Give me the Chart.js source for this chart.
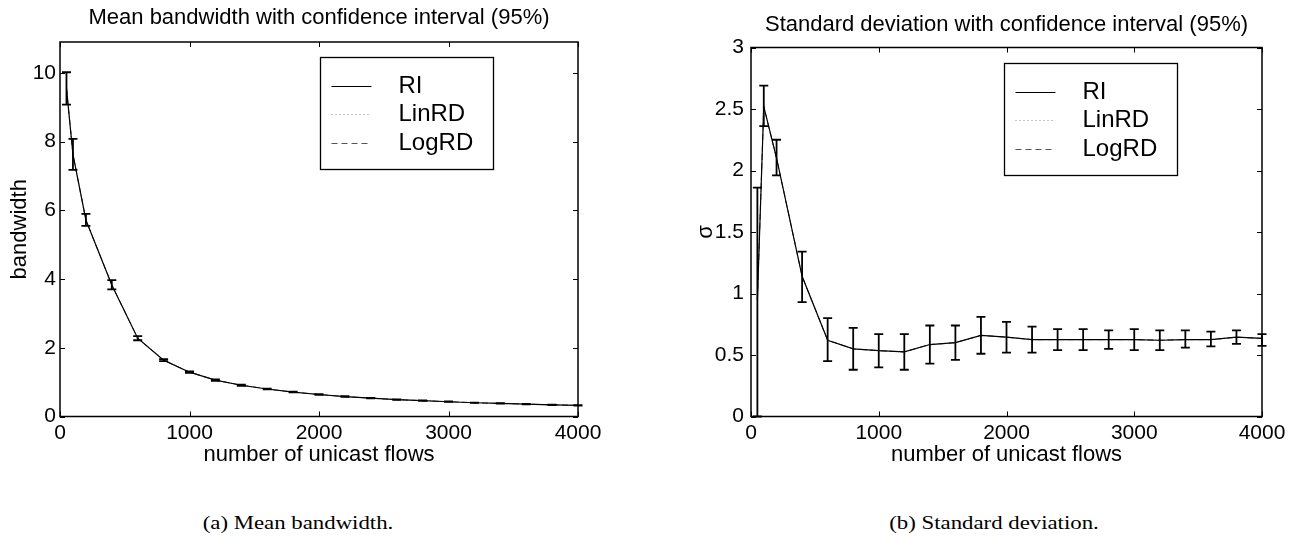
<!DOCTYPE html>
<html>
<head>
<meta charset="utf-8">
<script src="https://cdn.jsdelivr.net/npm/chart.js@4.4.1/dist/chart.umd.min.js"></script>
<style>
  body { margin: 0; background: #fff; width: 1297px; height: 538px; position: relative; overflow: hidden; }
  canvas { position: absolute; top: 0; }
  #bwChart { left: 0; }
  #sdChart { left: 650px; }
  .caption { position: absolute; top: 512px; font-family: "Liberation Serif", "Times New Roman", serif; font-size: 19px;
             white-space: nowrap; transform: translateX(-50%) scaleX(1.2); color: #000; }
</style>
</head>
<body>
<canvas id="bwChart" width="650" height="470"></canvas>
<canvas id="sdChart" width="647" height="470"></canvas>
<div class="caption" style="left:298px">(a) Mean bandwidth.</div>
<div class="caption" style="left:994px">(b) Standard deviation.</div>
<script>
// number of unicast flows (x positions of the samples)
const flows = [50, 100, 200, 400, 600, 800, 1000, 1200, 1400, 1600, 1800, 2000, 2200, 2400, 2600, 2800, 3000, 3200, 3400, 3600, 3800, 4000];

// mean bandwidth + 95% interval (RI, LinRD and LogRD lie on top of each other)
const bwMean = [9.55, 7.63, 5.72, 3.83, 2.28, 1.64, 1.29, 1.06, 0.91, 0.80, 0.71, 0.64, 0.58, 0.535, 0.49, 0.46, 0.43, 0.40, 0.38, 0.36, 0.34, 0.325];
const bwLow  = [9.08, 7.18, 5.55, 3.70, 2.22, 1.61, 1.27, 1.04, 0.895, 0.79, 0.70, 0.63, 0.57, 0.527, 0.483, 0.453, 0.424, 0.394, 0.374, 0.355, 0.335, 0.32];
const bwHigh = [10.02, 8.08, 5.90, 3.97, 2.34, 1.67, 1.31, 1.08, 0.925, 0.81, 0.72, 0.65, 0.59, 0.543, 0.497, 0.467, 0.436, 0.406, 0.386, 0.365, 0.345, 0.33];

// standard deviation + 95% interval
const sdMean = [0.95, 2.52, 2.10, 1.14, 0.62, 0.55, 0.535, 0.525, 0.585, 0.60, 0.66, 0.645, 0.625, 0.625, 0.625, 0.625, 0.625, 0.62, 0.625, 0.625, 0.645, 0.635];
const sdLow  = [0, 2.36, 1.96, 0.93, 0.45, 0.38, 0.40, 0.38, 0.43, 0.46, 0.51, 0.52, 0.52, 0.54, 0.54, 0.55, 0.54, 0.54, 0.56, 0.57, 0.59, 0.575];
const sdHigh = [1.86, 2.69, 2.25, 1.34, 0.80, 0.72, 0.67, 0.67, 0.74, 0.74, 0.81, 0.77, 0.73, 0.71, 0.71, 0.70, 0.71, 0.70, 0.70, 0.69, 0.70, 0.67];

// tick labels
const flowTicks = [0, 1000, 2000, 3000, 4000];
const bwTicks = [0, 2, 4, 6, 8, 10];
const sdTicks = [0, 0.5, 1, 1.5, 2, 2.5, 3];

Chart.defaults.font.family = "'Liberation Sans', Arial, Helvetica, sans-serif";
Chart.defaults.color = '#000';

const pts = arr => flows.map((f, i) => ({x: f, y: arr[i]}));

// matlab style box, inward ticks, error bars and boxed legend
const matlabBox = {
  id: 'matlabBox',
  afterDatasetsDraw(chart) {
    const {ctx, chartArea: a, scales: {x, y}} = chart;
    ctx.save();
    ctx.strokeStyle = '#000';

    // error bars
    ctx.lineWidth = 1.8;
    chart.data.datasets.forEach(ds => {
      if (!ds.errLow) return;
      ds.errLow.forEach((lo, i) => {
        const px = x.getPixelForValue(flows[i]);
        const p1 = y.getPixelForValue(lo);
        const p2 = y.getPixelForValue(ds.errHigh[i]);
        ctx.beginPath();
        ctx.moveTo(px, p1); ctx.lineTo(px, p2);
        ctx.moveTo(px - 4.5, p1); ctx.lineTo(px + 4.5, p1);
        ctx.moveTo(px - 4.5, p2); ctx.lineTo(px + 4.5, p2);
        ctx.stroke();
      });
    });

    // frame
    ctx.lineWidth = 1.5;
    ctx.strokeRect(a.left, a.top, a.width, a.height);

    // ticks pointing inward on all four sides
    ctx.lineWidth = 1;
    ctx.beginPath();
    x.ticks.forEach(t => {
      const px = Math.round(x.getPixelForValue(t.value)) + 0.5;
      ctx.moveTo(px, a.bottom); ctx.lineTo(px, a.bottom - 5);
      ctx.moveTo(px, a.top); ctx.lineTo(px, a.top + 5);
    });
    y.ticks.forEach(t => {
      const py = Math.round(y.getPixelForValue(t.value)) + 0.5;
      ctx.moveTo(a.left, py); ctx.lineTo(a.left + 5, py);
      ctx.moveTo(a.right, py); ctx.lineTo(a.right - 5, py);
    });
    ctx.stroke();

    // legend
    const w = 173, h = 112;
    const bx = Math.round(a.right - 85 - w) + 0.5, by = Math.round(a.top + 15) + 0.5;
    ctx.fillStyle = '#fff';
    ctx.fillRect(bx, by, w, h);
    ctx.lineWidth = 1.3;
    ctx.strokeRect(bx, by, w, h);
    ctx.font = "24px 'Liberation Sans', Arial, sans-serif";
    ctx.textBaseline = 'middle';
    chart.data.datasets.forEach((ds, i) => {
      const ly = Math.round(by + 28 + i * 28.5) + 0.5;
      ctx.strokeStyle = ds.legendColor;
      ctx.lineWidth = 1;
      ctx.setLineDash(ds.borderDash || []);
      ctx.beginPath();
      ctx.moveTo(bx + 11, ly); ctx.lineTo(bx + 51, ly);
      ctx.stroke();
      ctx.setLineDash([]);
      ctx.fillStyle = '#000';
      ctx.fillText(ds.label, bx + 78, ly);
    });
    ctx.restore();
  }
};

function series(mean, low, high) {
  return [
    {label: 'RI', data: pts(mean), errLow: low, errHigh: high,
     borderColor: '#000', legendColor: '#000', borderWidth: 1.2},
    {label: 'LinRD', data: pts(mean), borderColor: '#666', legendColor: '#888',
     borderDash: [1, 3], borderWidth: 1},
    {label: 'LogRD', data: pts(mean), borderColor: '#444', legendColor: '#555',
     borderDash: [6, 4], borderWidth: 1}
  ];
}

function chartOptions(cfg) {
  return {
    responsive: false,
    animation: false,
    layout: {padding: cfg.padding},
    elements: {point: {radius: 0}, line: {tension: 0}},
    plugins: {
      legend: {display: false},
      tooltip: {enabled: false},
      title: {
        display: true, text: cfg.title, fullSize: false,
        font: {size: 22, weight: 'normal'}, color: '#000',
        padding: cfg.titlePad
      }
    },
    scales: {
      x: {
        type: 'linear', min: 0, max: 4000,
        grid: {display: false, drawTicks: false},
        border: {display: false},
        afterBuildTicks: s => { s.ticks = flowTicks.map(v => ({value: v})); },
        afterFit: s => { s.height = 53.5; },
        ticks: {font: {size: 21}, padding: 4, maxRotation: 0, callback: v => String(v)},
        title: {display: true, text: 'number of unicast flows', font: {size: 22},
                padding: {top: 0, bottom: 2}}
      },
      y: {
        type: 'linear', min: 0, max: cfg.yMax,
        grid: {display: false, drawTicks: false},
        border: {display: false},
        afterBuildTicks: s => { s.ticks = cfg.yTicks.map(v => ({value: v})); },
        afterFit: s => { s.width = cfg.yWidth; },
        ticks: {font: {size: 21}, padding: cfg.yTickPad, callback: v => String(v)},
        title: {display: true, text: cfg.yTitle, font: {size: 22},
                padding: {top: cfg.yTitlePad, bottom: 0}}
      }
    }
  };
}

new Chart(document.getElementById('bwChart'), {
  type: 'line',
  data: {datasets: series(bwMean, bwLow, bwHigh)},
  options: chartOptions({
    title: 'Mean bandwidth with confidence interval (95%)',
    padding: {left: 0, right: 72, top: 0, bottom: 0},
    titlePad: {top: 4.8, bottom: 10.8},
    yMax: 10.9, yTicks: bwTicks, yWidth: 60, yTickPad: 4,
    yTitle: 'bandwidth', yTitlePad: 7
  }),
  plugins: [matlabBox]
});

new Chart(document.getElementById('sdChart'), {
  type: 'line',
  data: {datasets: series(sdMean, sdLow, sdHigh)},
  options: chartOptions({
    title: 'Standard deviation with confidence interval (95%)',
    padding: {left: 40, right: 35, top: 0, bottom: 0},
    titlePad: {top: 11.8, bottom: 9.3},
    yMax: 3, yTicks: sdTicks, yWidth: 61, yTickPad: 7,
    yTitle: 'σ', yTitlePad: 3
  }),
  plugins: [matlabBox]
});
</script>
</body>
</html>
